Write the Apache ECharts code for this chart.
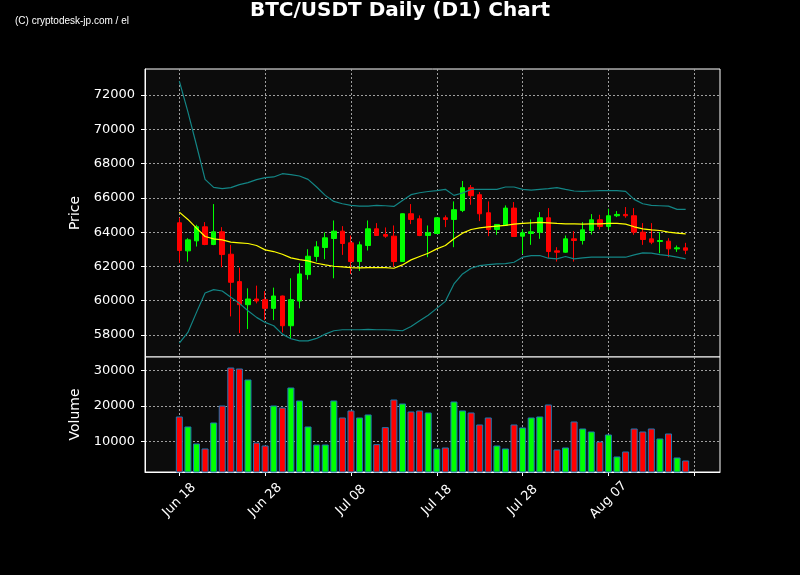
<!DOCTYPE html>
<html><head><meta charset="utf-8">
<script src="https://cdn.jsdelivr.net/npm/echarts@6/dist/echarts.min.js"></script>
<style>html,body{margin:0;padding:0;background:#000;}#c{width:800px;height:575px;}</style>
</head><body><div id="c"></div>
<script>
const dates = [
 '2024-06-18','2024-06-19','2024-06-20','2024-06-21','2024-06-22','2024-06-23','2024-06-24','2024-06-25','2024-06-26','2024-06-27','2024-06-28','2024-06-29','2024-06-30',
 '2024-07-01','2024-07-02','2024-07-03','2024-07-04','2024-07-05','2024-07-06','2024-07-07','2024-07-08','2024-07-09','2024-07-10','2024-07-11','2024-07-12','2024-07-13','2024-07-14','2024-07-15','2024-07-16','2024-07-17','2024-07-18','2024-07-19','2024-07-20','2024-07-21','2024-07-22','2024-07-23','2024-07-24','2024-07-25','2024-07-26','2024-07-27','2024-07-28','2024-07-29','2024-07-30','2024-07-31',
 '2024-08-01','2024-08-02','2024-08-03','2024-08-04','2024-08-05','2024-08-06','2024-08-07','2024-08-08','2024-08-09','2024-08-10','2024-08-11','2024-08-12','2024-08-13','2024-08-14','2024-08-15','2024-08-16'
];
const open = [64546,62908,63493,64312,63278,64020,62713,61114,59768,60100,60061,59554,60275,
 58540,59983,61524,62577,63103,63630,64058,63376,62284,63220,64195,63863,63766,62284,65073,64780,63805,63922,64839,64741,65268,66594,66184,65131,64156,64390,65404,63766,63922,64000,64839,
 62908,62830,63610,63512,64097,64722,64332,64956,65034,64956,64000,63610,63454,63473,63025,63083];
const close = [62927,63551,64312,63278,64020,62693,61075,59768,60100,59983,59554,60275,58540,
 60061,61563,62596,63142,63669,64058,63337,62284,63259,64195,63805,63766,62284,65073,64741,63805,63961,64839,64741,65307,66594,66126,65073,64156,64449,65404,63746,63961,64020,64839,62869,
 62830,63610,63512,64136,64722,64332,64956,65034,64956,64000,63571,63415,63512,63025,63083,62947];
const low = [62206,62284,63161,63240,63240,61952,59086,58111,58345,59846,58871,58871,58150,
 57799,59554,61231,62284,62420,61309,62674,61563,61738,62928,63780,63668,61992,62270,64468,63766,62538,63900,64293,63122,65170,65599,64644,63766,63844,64380,63740,62733,63259,63610,62498,
 62284,62791,62284,63278,63863,64156,64156,64878,64839,63844,63259,63298,62772,62538,62850,62713];
const high = [64839,63649,64429,64585,65638,64293,63259,61933,60724,60880,60568,60763,60300,
 61309,62186,63005,63473,63980,64683,64351,63805,63454,64683,64527,64273,64390,65090,65638,64975,64390,64860,64975,65794,66984,66750,66340,65794,64460,65560,65755,64156,64741,65170,65404,
 63122,63805,64058,64585,65053,65014,65365,65229,65463,65404,64527,64527,64000,63649,63220,63376];
const bandUpper = [72814,71020,69070,67081,66613,66535,66594,66770,66886,67061,67180,67220,67410,67360,
 67276,67081,66633,66145,65794,65658,65560,65521,65521,65560,65540,65500,65850,66184,66300,66370,
 66418,66496,66145,66282,66496,66496,66496,66496,66633,66633,66496,66457,66496,66535,
 66594,66496,66400,66380,66400,66418,66418,66418,66380,65911,65658,65560,65540,65520,65326,65326];
const bandMid = [65170,64741,64234,63746,63610,63551,63415,63376,63337,63220,62966,62869,62713,62500,
 62400,62323,62186,62089,62011,61972,61933,61914,61933,61933,61933,61894,62089,62382,62577,62772,
 63025,63220,63610,63941,64156,64254,64312,64351,64390,64468,64507,64546,64566,64546,
 64507,64488,64488,64468,64488,64488,64507,64507,64468,64312,64195,64136,64097,64000,63941,63902];
const bandLower = [57526,58150,59320,60451,60646,60568,60197,59846,59418,59028,58735,58540,58052,57780,
 57662,57662,57799,58052,58247,58306,58306,58306,58326,58306,58306,58286,58247,58501,58832,59150,
 59554,59963,60978,61563,61894,62050,62108,62147,62167,62245,62538,62635,62635,62479,
 62440,62577,62440,62498,62538,62538,62538,62538,62538,62674,62791,62772,62693,62635,62538,62440];
const volume = [17042,14225,9436,8027,15352,20140,30845,30563,27465,9718,8873,20140,19577,25211,
 21549,14225,9155,9155,21549,16760,18732,16760,17605,9249,14037,21830,20703,18450,18732,18169,
 8027,8309,21267,18732,18169,14788,16760,8873,8027,14788,13943,16760,17042,20422,
 7746,8309,15633,13661,12816,10000,11972,5774,7182,13661,12816,13661,10845,12253,5492,4647];
const priceTicks = [58000,60000,62000,64000,66000,68000,70000,72000];
const volumeTicks = [10000,20000,30000];

const PAD = 4;
function shift(iso, d){ const t = new Date(iso + 'T00:00:00Z'); t.setUTCDate(t.getUTCDate()+d); return t.toISOString().slice(0,10); }
const cats = [];
for (let i = PAD; i > 0; i--) cats.push(shift(dates[0], -i));
dates.forEach(d => cats.push(d));
for (let i = 1; i <= PAD; i++) cats.push(shift(dates[dates.length-1], i));
const padL = Array(PAD).fill('-'), padR = Array(PAD).fill('-');
const padded = a => padL.concat(a, padR);
const MON = ['Jan','Feb','Mar','Apr','May','Jun','Jul','Aug','Sep','Oct','Nov','Dec'];
const fmt = v => MON[+v.slice(5,7)-1] + ' ' + v.slice(8,10);
const isTick = i => (i - PAD) % 10 === 0;
const isLabel = i => isTick(i) && i <= PAD + 50;

const candles = padL.concat(dates.map((d,i)=>[open[i],close[i],low[i],high[i]]), padR);
const vols = padL.concat(volume.map((v,i)=>({value:v,itemStyle:{color: close[i]>=open[i] ? '#00ff00' : '#ff0000'}})), padR);

const FONT = 'DejaVu Sans';
const gridLine = {show:true, lineStyle:{color:'#a0a0a0', width:1, type:[2,2]}};
const chart = echarts.init(document.getElementById('c'), null, {renderer:'canvas'});
chart.setOption({
  animation:false,
  backgroundColor:'#000000',
  textStyle:{fontFamily:FONT},
  title:[
    {text:'BTC/USDT Daily (D1) Chart', left:'center', top:1, padding:0, textStyle:{color:'#fff', fontSize:20, fontWeight:'bold', fontFamily:FONT}},
    {text:'(C) cryptodesk-jp.com / el', left:15, top:16, padding:0, textStyle:{color:'#fff', fontSize:10, fontWeight:'normal', fontFamily:'Liberation Sans'}}
  ],
  grid:[
    {left:145, top:69, width:575, height:288, show:true, backgroundColor:'#0c0c0c', borderColor:'#ffffff', borderWidth:1},
    {left:145, top:357, width:575, height:115, show:true, backgroundColor:'#0c0c0c', borderColor:'#ffffff', borderWidth:1}
  ],
  xAxis:[
    {type:'category', gridIndex:0, data:cats, boundaryGap:false,
     axisLine:{show:false}, axisTick:{show:false}, axisLabel:{show:false},
     splitLine:Object.assign({interval:(i)=>isTick(i)}, gridLine)},
    {type:'category', gridIndex:1, data:cats, boundaryGap:false,
     axisLine:{show:true, lineStyle:{color:'#fff'}},
     axisTick:{show:true, interval:(i)=>isTick(i), length:4, lineStyle:{color:'#fff'}},
     axisLabel:{show:true, interval:(i)=>isLabel(i), rotate:45, align:'center', verticalAlign:'middle', color:'#fff', fontSize:13, margin:28, formatter:fmt},
     splitLine:Object.assign({interval:(i)=>isTick(i)}, gridLine)}
  ],
  yAxis:[
    {type:'value', gridIndex:0, min:56717, max:73517, name:'Price', nameLocation:'middle', nameGap:59,
     nameTextStyle:{color:'#fff', fontSize:14, fontFamily:FONT},
     axisLine:{show:true, lineStyle:{color:'#fff'}},
     axisTick:{show:true, length:4, lineStyle:{color:'#fff'}, customValues:priceTicks},
     axisLabel:{color:'#fff', fontSize:13, margin:10, customValues:priceTicks, formatter:v=>String(v)},
     splitLine:gridLine},
    {type:'value', gridIndex:1, min:1400, max:33800, name:'Volume', nameLocation:'middle', nameGap:59,
     nameTextStyle:{color:'#fff', fontSize:14, fontFamily:FONT},
     axisLine:{show:true, lineStyle:{color:'#fff'}},
     axisTick:{show:true, length:4, lineStyle:{color:'#fff'}, customValues:volumeTicks},
     axisLabel:{color:'#fff', fontSize:13, margin:10, customValues:volumeTicks, formatter:v=>String(v)},
     splitLine:gridLine}
  ],
  series:[
    {type:'candlestick', xAxisIndex:0, yAxisIndex:0, data:candles, barWidth:5,
     itemStyle:{color:'#00ff00', color0:'#ff0000', borderColor:'#00ff00', borderColor0:'#ff0000', borderWidth:1}},
    {type:'line', xAxisIndex:0, yAxisIndex:0, data:padded(bandUpper), symbol:'none', lineStyle:{color:'#138585', width:1.2}},
    {type:'line', xAxisIndex:0, yAxisIndex:0, data:padded(bandLower), symbol:'none', lineStyle:{color:'#138585', width:1.2}},
    {type:'line', xAxisIndex:0, yAxisIndex:0, data:padded(bandMid), symbol:'none', lineStyle:{color:'#ffff00', width:1.2}},
    {type:'bar', xAxisIndex:1, yAxisIndex:1, data:vols, barWidth:7,
     itemStyle:{borderColor:'#1f77b4', borderWidth:1}}
  ]
});
</script>
</body></html>
